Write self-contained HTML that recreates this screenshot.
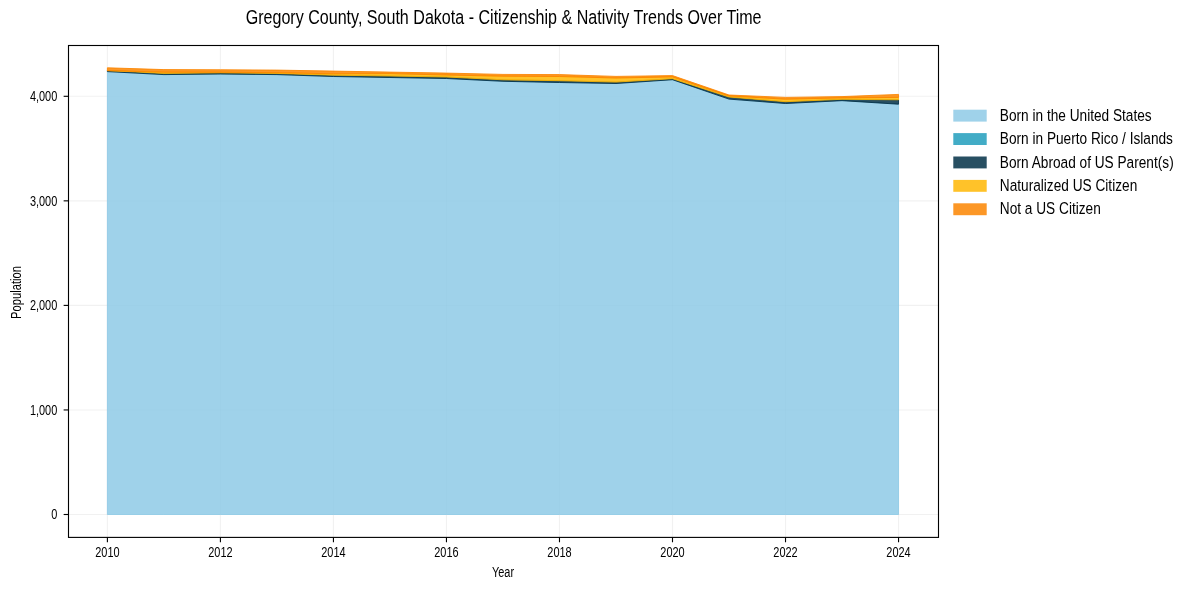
<!DOCTYPE html>
<html><head><meta charset="utf-8"><style>
html,body{margin:0;padding:0;background:#fff;}
svg{display:block;will-change:transform;}
text{font-family:"Liberation Sans",sans-serif;fill:#000;}
</style></head><body>
<svg width="1189" height="590" viewBox="0 0 1189 590">
<rect width="1189" height="590" fill="#fff"/>
<g stroke="#b0b0b0" stroke-opacity="0.18" stroke-width="1.1">
<line x1="107.4" y1="45.5" x2="107.4" y2="537.4"/>
<line x1="220.42" y1="45.5" x2="220.42" y2="537.4"/>
<line x1="333.44" y1="45.5" x2="333.44" y2="537.4"/>
<line x1="446.46" y1="45.5" x2="446.46" y2="537.4"/>
<line x1="559.48" y1="45.5" x2="559.48" y2="537.4"/>
<line x1="672.5" y1="45.5" x2="672.5" y2="537.4"/>
<line x1="785.52" y1="45.5" x2="785.52" y2="537.4"/>
<line x1="898.54" y1="45.5" x2="898.54" y2="537.4"/>
<line x1="68.5" y1="514.5" x2="938.5" y2="514.5"/>
<line x1="68.5" y1="409.95" x2="938.5" y2="409.95"/>
<line x1="68.5" y1="305.4" x2="938.5" y2="305.4"/>
<line x1="68.5" y1="200.85" x2="938.5" y2="200.85"/>
<line x1="68.5" y1="96.3" x2="938.5" y2="96.3"/>
</g>
<g>
<polygon points="107.4,71.6 163.91,74.6 220.42,74 276.93,74.6 333.44,76.5 389.95,77.5 446.46,78.5 502.97,81.3 559.48,82.5 615.99,83.5 672.5,79.7 729.01,99.1 785.52,103.5 842.03,100.65 898.54,104.2 898.54,514.5 842.03,514.5 785.52,514.5 729.01,514.5 672.5,514.5 615.99,514.5 559.48,514.5 502.97,514.5 446.46,514.5 389.95,514.5 333.44,514.5 276.93,514.5 220.42,514.5 163.91,514.5 107.4,514.5" fill="#8ECAE6" fill-opacity="0.85" stroke="#8ECAE6" stroke-opacity="0.85" stroke-width="1"/>
<polygon points="107.4,70.4 163.91,73.4 220.42,72.8 276.93,73.4 333.44,75.2 389.95,76 446.46,77 502.97,79.8 559.48,80.7 615.99,82.1 672.5,78.7 729.01,97 785.52,101.7 842.03,99.3 898.54,99.8 898.54,104.2 842.03,100.65 785.52,103.5 729.01,99.1 672.5,79.7 615.99,83.5 559.48,82.5 502.97,81.3 446.46,78.5 389.95,77.5 333.44,76.5 276.93,74.6 220.42,74 163.91,74.6 107.4,71.6" fill="#023047" fill-opacity="0.85" stroke="#023047" stroke-opacity="0.85" stroke-width="1"/>
<polygon points="107.4,70.6 163.91,72.2 220.42,72.2 276.93,72.7 333.44,73.8 389.95,73.6 446.46,75 502.97,76.2 559.48,76.5 615.99,78 672.5,76.9 729.01,95.9 785.52,99.2 842.03,97.9 898.54,97.4 898.54,99.8 842.03,99.3 785.52,101.7 729.01,97 672.5,78.7 615.99,82.1 559.48,80.7 502.97,79.8 446.46,77 389.95,76 333.44,75.2 276.93,73.4 220.42,72.8 163.91,73.4 107.4,70.4" fill="#FFB703" fill-opacity="0.85" stroke="#FFB703" stroke-opacity="0.85" stroke-width="1"/>
<polygon points="107.4,67.8 163.91,69.6 220.42,69.75 276.93,70.1 333.44,71.1 389.95,72.1 446.46,73.1 502.97,74.4 559.48,74.6 615.99,76.4 672.5,75.6 729.01,95 785.52,97.4 842.03,96.6 898.54,94.4 898.54,97.4 842.03,97.9 785.52,99.2 729.01,95.9 672.5,76.9 615.99,78 559.48,76.5 502.97,76.2 446.46,75 389.95,73.6 333.44,73.8 276.93,72.7 220.42,72.2 163.91,72.2 107.4,70.6" fill="#FB8500" fill-opacity="0.85" stroke="#FB8500" stroke-opacity="0.85" stroke-width="1"/>
</g>
<rect x="68.5" y="45.5" width="870" height="491.9" fill="none" stroke="#000" stroke-width="1.11"/>
<g stroke="#000" stroke-width="1.11">
<line x1="107.4" y1="537.4" x2="107.4" y2="542.26"/>
<line x1="220.42" y1="537.4" x2="220.42" y2="542.26"/>
<line x1="333.44" y1="537.4" x2="333.44" y2="542.26"/>
<line x1="446.46" y1="537.4" x2="446.46" y2="542.26"/>
<line x1="559.48" y1="537.4" x2="559.48" y2="542.26"/>
<line x1="672.5" y1="537.4" x2="672.5" y2="542.26"/>
<line x1="785.52" y1="537.4" x2="785.52" y2="542.26"/>
<line x1="898.54" y1="537.4" x2="898.54" y2="542.26"/>
<line x1="63.64" y1="514.5" x2="68.5" y2="514.5"/>
<line x1="63.64" y1="409.95" x2="68.5" y2="409.95"/>
<line x1="63.64" y1="305.4" x2="68.5" y2="305.4"/>
<line x1="63.64" y1="200.85" x2="68.5" y2="200.85"/>
<line x1="63.64" y1="96.3" x2="68.5" y2="96.3"/>
</g>
<text transform="translate(107.4,556.6) scale(0.735,1)" font-size="14.9" text-anchor="middle">2010</text>
<text transform="translate(220.42,556.6) scale(0.735,1)" font-size="14.9" text-anchor="middle">2012</text>
<text transform="translate(333.44,556.6) scale(0.735,1)" font-size="14.9" text-anchor="middle">2014</text>
<text transform="translate(446.46,556.6) scale(0.735,1)" font-size="14.9" text-anchor="middle">2016</text>
<text transform="translate(559.48,556.6) scale(0.735,1)" font-size="14.9" text-anchor="middle">2018</text>
<text transform="translate(672.5,556.6) scale(0.735,1)" font-size="14.9" text-anchor="middle">2020</text>
<text transform="translate(785.52,556.6) scale(0.735,1)" font-size="14.9" text-anchor="middle">2022</text>
<text transform="translate(898.54,556.6) scale(0.735,1)" font-size="14.9" text-anchor="middle">2024</text>
<text transform="translate(57.3,519.3) scale(0.735,1)" font-size="14.9" text-anchor="end">0</text>
<text transform="translate(57.3,414.75) scale(0.735,1)" font-size="14.9" text-anchor="end">1,000</text>
<text transform="translate(57.3,310.2) scale(0.735,1)" font-size="14.9" text-anchor="end">2,000</text>
<text transform="translate(57.3,205.65) scale(0.735,1)" font-size="14.9" text-anchor="end">3,000</text>
<text transform="translate(57.3,101.1) scale(0.735,1)" font-size="14.9" text-anchor="end">4,000</text>
<text transform="translate(503.6,23.5) scale(0.827,1)" font-size="19.44" text-anchor="middle">Gregory County, South Dakota - Citizenship &amp; Nativity Trends Over Time</text>
<text transform="translate(503,576.8) scale(0.735,1)" font-size="14.9" text-anchor="middle">Year</text>
<text transform="translate(20.8,292.5) rotate(-90) scale(0.75,1)" font-size="14.9" text-anchor="middle">Population</text>
<rect x="953.3" y="109.7" width="33.4" height="11.9" fill="#8ECAE6" fill-opacity="0.85"/>
<text transform="translate(999.8,120.8) scale(0.82,1)" font-size="16.67" text-anchor="start">Born in the United States</text>
<rect x="953.3" y="133.1" width="33.4" height="11.9" fill="#219EBC" fill-opacity="0.85"/>
<text transform="translate(999.8,144.2) scale(0.82,1)" font-size="16.67" text-anchor="start">Born in Puerto Rico / Islands</text>
<rect x="953.3" y="156.5" width="33.4" height="11.9" fill="#023047" fill-opacity="0.85"/>
<text transform="translate(999.8,167.6) scale(0.82,1)" font-size="16.67" text-anchor="start">Born Abroad of US Parent(s)</text>
<rect x="953.3" y="179.9" width="33.4" height="11.9" fill="#FFB703" fill-opacity="0.85"/>
<text transform="translate(999.8,191) scale(0.82,1)" font-size="16.67" text-anchor="start">Naturalized US Citizen</text>
<rect x="953.3" y="203.3" width="33.4" height="11.9" fill="#FB8500" fill-opacity="0.85"/>
<text transform="translate(999.8,214.4) scale(0.82,1)" font-size="16.67" text-anchor="start">Not a US Citizen</text>
</svg>
</body></html>
